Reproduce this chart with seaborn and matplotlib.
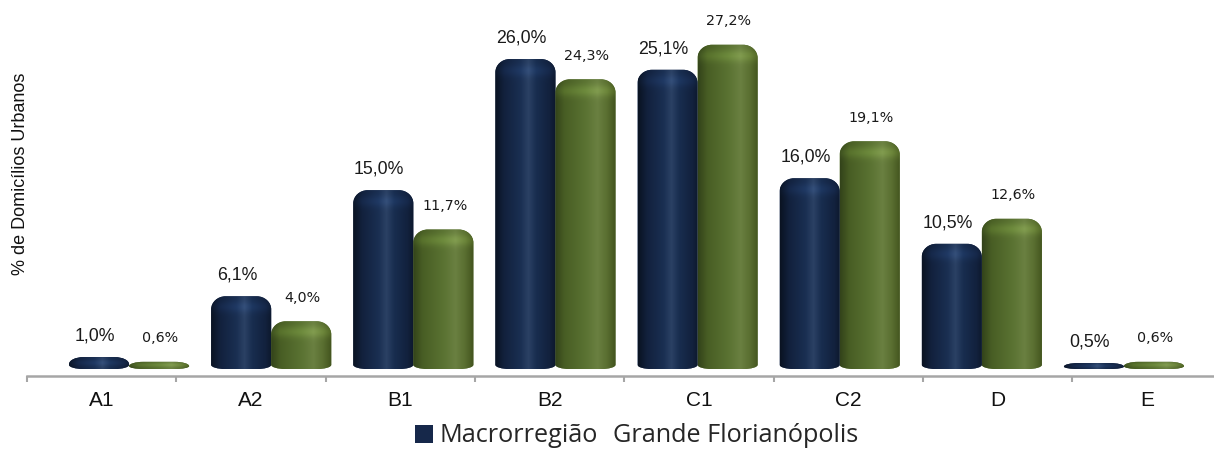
import numpy as np
import pandas as pd
import matplotlib
matplotlib.use("Agg")
import matplotlib.pyplot as plt
import seaborn as sns
from matplotlib.path import Path
from matplotlib.patches import PathPatch, Patch
from matplotlib.colors import to_rgb

# ---------------- data ----------------
categories = ["A1", "A2", "B1", "B2", "C1", "C2", "D", "E"]
macrorregiao = [1.0, 6.1, 15.0, 26.0, 25.1, 16.0, 10.5, 0.5]
grande_floripa = [0.6, 4.0, 11.7, 24.3, 27.2, 19.1, 12.6, 0.6]
series = ["Macrorregião", "Grande Florianópolis"]
ylabel = "% de Domicílios Urbanos"

colors = ["#16284a", "#56702e"]
# horizontal shading stops (position, colour) for the cylinder look
shade_stops = [
    [(0.0, "#0a1322"), (0.15, "#12213d"), (0.42, "#1a2f52"), (0.55, "#2b4164"),
     (0.68, "#182d4f"), (0.9, "#12213d"), (1.0, "#0d182c")],
    [(0.0, "#33431a"), (0.15, "#485d24"), (0.5, "#5a7232"), (0.7, "#6a8041"),
     (0.86, "#596e30"), (1.0, "#42531e")],
]

df = pd.DataFrame({
    "classe": categories * 2,
    "valor": macrorregiao + grande_floripa,
    "serie": [series[0]] * len(categories) + [series[1]] * len(categories),
})

sns.set_style("white")
plt.rcParams["font.family"] = ["Liberation Sans", "DejaVu Sans"]

W, H = 1214, 450
PX_PER_UNIT = 11.92
YMAX = 28
fig = plt.figure(figsize=(W / 100, H / 100), dpi=100)
ax_main = fig.add_axes([27 / W, (H - 376) / H, 1194.4 / W, 0.6])
ax_bars = fig.add_axes([58 / W, (H - 369) / H, 1137 / W, YMAX * PX_PER_UNIT / H])
ax_bars.set_facecolor("none")

sns.barplot(data=df, x="classe", y="valor", hue="serie", order=categories,
            hue_order=series, palette=colors, width=0.845, saturation=1,
            legend=False, ax=ax_bars)
ax_bars.set_xlim(-0.5, 7.5)
ax_bars.set_ylim(0, YMAX)
ax_bars.axis("off")

K = 0.5523


def rounded_path(x0, w, h, rx, ryt, ryb):
    x1 = x0 + w
    verts = [
        (x0, ryb),
        (x0, h - ryt),
        (x0, h - ryt + K * ryt), (x0 + rx - K * rx, h), (x0 + rx, h),
        (x1 - rx, h),
        (x1 - rx + K * rx, h), (x1, h - ryt + K * ryt), (x1, h - ryt),
        (x1, ryb),
        (x1, ryb - K * ryb), (x1 - rx + K * rx, 0), (x1 - rx, 0),
        (x0 + rx, 0),
        (x0 + rx - K * rx, 0), (x0, ryb - K * ryb), (x0, ryb),
        (x0, ryb),
    ]
    codes = [Path.MOVETO, Path.LINETO,
             Path.CURVE4, Path.CURVE4, Path.CURVE4,
             Path.LINETO,
             Path.CURVE4, Path.CURVE4, Path.CURVE4,
             Path.LINETO,
             Path.CURVE4, Path.CURVE4, Path.CURVE4,
             Path.LINETO,
             Path.CURVE4, Path.CURVE4, Path.CURVE4,
             Path.CLOSEPOLY]
    return Path(verts, codes)


def shade_profile(stops, n):
    t = np.linspace(0, 1, n)
    pos = [s[0] for s in stops]
    cols = np.array([to_rgb(s[1]) for s in stops])
    return np.stack([np.interp(t, pos, cols[:, c]) for c in range(3)], axis=-1)


for si, cont in enumerate(ax_bars.containers):
    vals = macrorregiao if si == 0 else grande_floripa
    prof = shade_profile(shade_stops[si], 90)
    for p, v in zip(cont.patches, vals):
        x0, w, h = p.get_x(), p.get_width(), p.get_height()
        p.set_visible(False)
        rx = w * 0.24
        ryt = min(1.1, h * 0.6)
        ryb = min(0.35, h * 0.4)
        path = rounded_path(x0, w, h, rx, ryt, ryb)
        patch = PathPatch(path, facecolor=colors[si], edgecolor="none", zorder=2)
        ax_bars.add_patch(patch)
        ny = 120
        yy = np.linspace(0, h, ny)
        cap = 0.22 * np.exp(-((yy - (h - ryt * 0.8)) / max(ryt * 0.45, 0.05)) ** 2)
        img = prof[None, :, :] * (1 + cap[:, None, None])
        img = np.clip(img, 0, 1)
        im = ax_bars.imshow(img, extent=[x0, x0 + w, 0, h], origin="lower",
                            aspect="auto", interpolation="bilinear", zorder=3)
        im.set_clip_path(patch)
        label = f"{v:.1f}".replace(".", ",") + "%"
        if si == 0:
            ax_bars.annotate(label, xy=(x0 + w / 2, h), xytext=(-3, 15),
                             textcoords="offset points", ha="center", va="center",
                             fontsize=12.8, family=["Liberation Sans", "DejaVu Sans"],
                             color="#1a1a1a", annotation_clip=False)
        else:
            ax_bars.annotate(label, xy=(x0 + w / 2, h), xytext=(1, 17),
                             textcoords="offset points", ha="center", va="center",
                             fontsize=10.3, family=["DejaVu Sans"],
                             color="#1a1a1a", annotation_clip=False)

ax_bars.set_xlim(-0.5, 7.5)
ax_bars.set_ylim(0, YMAX)

# ---------------- category axis ----------------
ax_main.set_xlim(-0.5, len(categories) - 0.5)
ax_main.set_ylim(0, 1)
ax_main.set_xticks(range(len(categories)))
ax_main.set_xticklabels(categories, fontsize=15, color="#111111")
ax_main.set_xticks(np.arange(-0.5, len(categories), 1), minor=True)
ax_main.tick_params(axis="x", which="major", bottom=True, length=0, pad=10.5)
ax_main.tick_params(axis="x", which="minor", bottom=True, length=4, width=1.5,
                    color="#a6a6a6", direction="out")
ax_main.set_yticks([])
for s in ["left", "top", "right"]:
    ax_main.spines[s].set_visible(False)
ax_main.spines["bottom"].set_color("#a6a6a6")
ax_main.spines["bottom"].set_linewidth(1.8)
ax_main.set_ylabel(ylabel, fontsize=13, color="#111111")
ax_main.yaxis.label.set_va("center")
ax_main.yaxis.set_label_coords(21 / W, (H - 174) / H, transform=fig.transFigure)

# ---------------- legend ----------------
handles = [Patch(facecolor=colors[0], edgecolor="none"),
           Patch(facecolor="none", edgecolor="none")]
fig.legend(handles=handles, labels=series, loc="center",
           bbox_to_anchor=(637 / W, 14 / H), ncol=2, frameon=False,
           prop={"family": "Open Sans", "size": 18.2}, handlelength=0.7,
           handleheight=0.7, handletextpad=0.27, columnspacing=-0.38,
           borderpad=0, borderaxespad=0)

fig.savefig("out.png", dpi=100)
